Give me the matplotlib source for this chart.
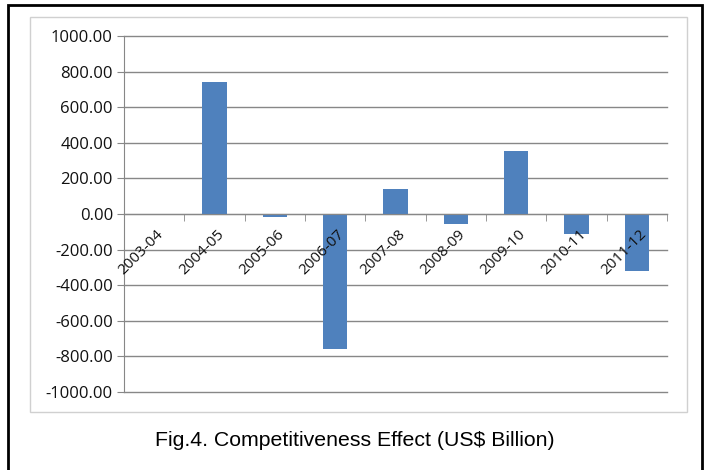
import matplotlib
matplotlib.use("Agg")
import matplotlib.pyplot as plt
import matplotlib.transforms as mtransforms
from matplotlib.patches import Rectangle
import numpy as np

years = ["2003-04", "2004-05", "2005-06", "2006-07", "2007-08",
         "2008-09", "2009-10", "2010-11", "2011-12"]
effect = [0, 743, -18, -760, 140, -56, 352, -112, -322]
yticks = [-1000, -800, -600, -400, -200, 0, 200, 400, 600, 800, 1000]

W, H = 707, 470
fig = plt.figure(figsize=(W / 100, H / 100), dpi=100)

# outer black border and inner grey chart frame
fig.patches.append(Rectangle((8 / W, -0.05), (702 - 8) / W, 1.05 - 5 / H,
                             transform=fig.transFigure, fill=False,
                             edgecolor="black", linewidth=2))
fig.patches.append(Rectangle((30 / W, 1 - 412 / H), (687 - 30) / W, (412 - 17) / H,
                             transform=fig.transFigure, fill=False,
                             edgecolor="#d0d0d0", linewidth=1))

ax = fig.add_axes([124 / W, 1 - 392 / H, (667 - 124) / W, (392 - 36) / H])
x = np.arange(len(years))
ax.bar(x, effect, width=0.4, color="#4f81bd", zorder=2)

ax.set_xlim(-0.5, len(years) - 0.5)
ax.set_ylim(-1000, 1000)
ax.set_yticks(yticks)
ax.set_yticklabels([f"{v:.2f}" for v in yticks], fontsize=12,
                   family="Open Sans", color="#111111")
ax.yaxis.grid(True, color="#878787", linewidth=1)
ax.set_axisbelow(True)
for gl in ax.get_ygridlines():
    gl.set_clip_on(False)

for s in ["top", "right"]:
    ax.spines[s].set_visible(False)
ax.spines["left"].set_color("#878787")
ax.spines["bottom"].set_position(("data", 0))
ax.spines["bottom"].set_color("#878787")
ax.tick_params(axis="y", length=5, color="#878787", pad=3)

ax.set_xticks(x)
ax.set_xticks(np.arange(len(years) + 1) - 0.5, minor=True)
ax.tick_params(axis="x", which="major", length=0, pad=9)
ax.tick_params(axis="x", which="minor", length=5, color="#878787")
ax.set_xticklabels(years, rotation=45, ha="right", rotation_mode="anchor",
                   fontsize=11, family="Open Sans", color="#111111")
shift = mtransforms.ScaledTranslation(2 / 100, 0, fig.dpi_scale_trans)
for lbl in ax.get_xticklabels():
    lbl.set_transform(lbl.get_transform() + shift)
ax.xaxis.set_zorder(4)

fig.text(355 / W, 1 - 440 / H, "Fig.4. Competitiveness Effect (US$ Billion)",
         ha="center", va="center", fontsize=15.3, family="Liberation Sans")

fig.savefig("out.png", dpi=100)
